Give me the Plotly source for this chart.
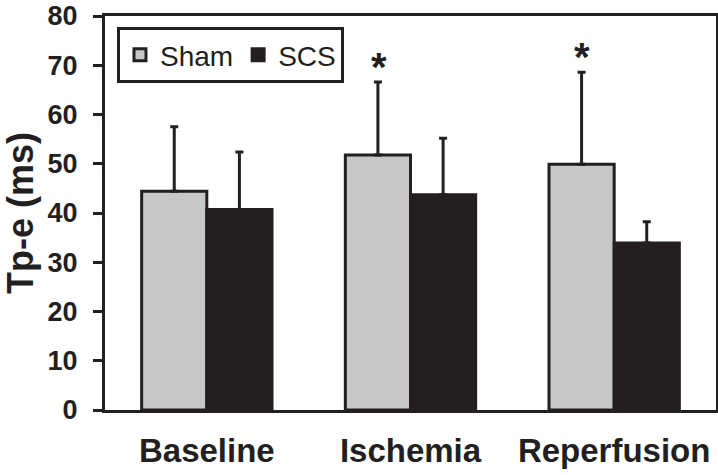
import plotly.graph_objects as go

categories = ["Baseline", "Ischemia", "Reperfusion"]
sham = [44.4, 51.8, 49.9]
sham_err = [13.1, 14.8, 18.7]
scs = [40.7, 43.7, 33.9]
scs_err = [11.7, 11.5, 4.3]
sig = [False, True, True]
y_ticks = [0, 10, 20, 30, 40, 50, 60, 70, 80]

INK = "#231f20"
GREY = "#c6c7c8"
FONT = "Liberation Sans, Arial, sans-serif"

fig = go.Figure()
fig.add_trace(go.Bar(
    name="Sham", x=categories, y=sham,
    marker=dict(color=GREY, line=dict(color=INK, width=3)),
    error_y=dict(type="data", array=sham_err, symmetric=False,
                 arrayminus=[0, 0, 0], color=INK, thickness=3, width=4),
))
fig.add_trace(go.Bar(
    name="SCS", x=categories, y=scs,
    marker=dict(color=INK, line=dict(color=INK, width=3)),
    error_y=dict(type="data", array=scs_err, symmetric=False,
                 arrayminus=[0, 0, 0], color=INK, thickness=3, width=4),
))

for c, v, e, s in zip(categories, sham, sham_err, sig):
    if s:
        fig.add_annotation(x=c, y=v + e, text="<b>*</b>", showarrow=False,
                           xshift=-32, yanchor="bottom", yshift=-9,
                           font=dict(family=FONT, size=40, color=INK))

fig.update_layout(
    width=718, height=475,
    margin=dict(l=105, r=2, t=16, b=65, autoexpand=False),
    paper_bgcolor="white", plot_bgcolor="white",
    barmode="group", bargap=0.36, bargroupgap=0,
    font=dict(family=FONT, color=INK),
    showlegend=True,
    legend=dict(orientation="h", x=0.0196, y=0.972, xanchor="left", yanchor="top",
                bordercolor=INK, borderwidth=3, bgcolor="white",
                font=dict(family=FONT, size=28, color=INK),
                itemwidth=30, tracegroupgap=0),
)
fig.update_xaxes(
    automargin=False,
    showline=True, linecolor=INK, linewidth=3, mirror=True,
    ticks="", showgrid=False,
    tickfont=dict(family=FONT, size=33, color=INK, weight="bold"),
    ticklabelstandoff=9,
)
fig.update_yaxes(
    automargin=False,
    range=[0, 80], tickvals=y_ticks, ticktext=[str(t) for t in y_ticks],
    showline=True, linecolor=INK, linewidth=3, mirror=True,
    ticks="outside", ticklen=9, tickwidth=3, tickcolor=INK,
    showgrid=False, zeroline=False,
    tickfont=dict(family=FONT, size=27, color=INK, weight="bold"),
    ticklabelstandoff=10,
    title=dict(text="Tp-e (ms)", standoff=8,
               font=dict(family=FONT, size=36, color=INK, weight="bold")),
)

fig.write_html("out.html", config={"displayModeBar": False},
               post_script="document.body.style.margin='0';document.body.style.overflow='hidden';")
